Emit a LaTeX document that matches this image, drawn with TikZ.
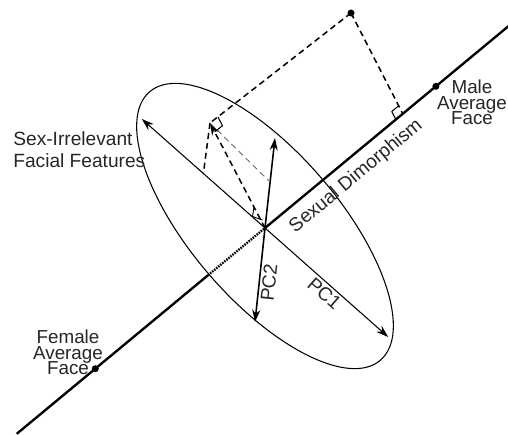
\documentclass[tikz,border=0pt]{standalone}
\usepackage{fontspec}
\setmainfont{Liberation Sans}
\usetikzlibrary{arrows.meta,calc}
\newcommand\facefont{\fontsize{10.7}{8.8}\selectfont\setlength{\lineskiplimit}{-10pt}}

\begin{document}
\begin{tikzpicture}[font=\fontsize{10.9}{12.5}\selectfont, line join=round, >={Stealth[length=7pt,width=4.6pt]},
    axis/.style={line width=1.35pt},
    pcaxis/.style={line width=0.9pt,->},
    proj/.style={line width=0.85pt,dash pattern=on 3.4pt off 2.3pt},
    lbl/.style={text=black!85},
    facelbl/.style={lbl,align=center,inner sep=0pt,anchor=north,font=\facefont}]
    \useasboundingbox (0,0) rectangle (10.16,8.68);
    \def\ang{39.66}
    \coordinate (C) at (5.30,4.12);
    \coordinate (Ce) at (5.30,4.16);
    \coordinate (LL) at ($(C)+(180+\ang:6.45)$);
    \coordinate (UR) at ($(C)+(\ang:6.35)$);
    \coordinate (Sx) at ($(C)+(180+\ang:1.48)$);
    \coordinate (Ma) at ($(C)+(\ang:4.44)$);
    \coordinate (Fe) at ($(C)+(180+\ang:4.41)$);
    \coordinate (Ft) at ($(C)+(\ang:3.58)$);
    \coordinate (P) at (7.02,8.42);
    \coordinate (Q) at (4.20,6.22);
    \coordinate (A1) at ($(C)+(138.5:3.29)$);
    \coordinate (A2) at ($(C)+(-41.5:3.29)$);
    \coordinate (B) at (5.10,2.24);
    \coordinate (U) at (5.50,5.92);
    \draw[line width=0.6pt, shift={(Ce)}, rotate=-49.3] (0,0) ellipse[x radius=3.54, y radius=1.48];
    \draw[axis] (LL) -- (Sx);
    \draw[axis, line width=1.3pt, dash pattern=on 0.9pt off 0.6pt] (Sx) -- (C);
    \draw[axis] (C) -- (UR);
    \draw[line width=0.6pt, <->] (A1) -- (A2);
    \draw[pcaxis] (C) -- (B);
    \draw[pcaxis] (C) -- (U);
    \draw[proj, ->] (C) -- (Q);
    \draw[proj] (Q) -- ($(C)!0.5!(A1)$);
    \draw[proj, line width=0.5pt, black!60] (Q) -- ($(C)!0.51!(U)$);
    \draw[proj] (P) -- (Q);
    \draw[proj] (P) -- (Ft);
    \coordinate (q1) at ($(Q)!0.2cm!(P)$);
    \coordinate (q2) at ($(Q)!0.2cm!(C)$);
    \draw[line width=0.6pt] (q1) -- ($(q1)+(q2)-(Q)$) -- (q2);
    \coordinate (f1) at ($(Ft)!0.18cm!(P)$);
    \coordinate (f2) at ($(Ft)!0.18cm!(LL)$);
    \draw[line width=0.6pt] (f1) -- ($(f1)+(f2)-(Ft)$) -- (f2);
    \draw[line width=0.5pt] ($(C)!0.2!(Q)$) -- ++(-0.03,-0.19) -- ($(C)+(-0.05,0.16)$);
    \fill (P) circle (0.07);
    \fill (Ma) circle (0.07);
    \fill (Fe) circle (0.07);
    \node[lbl, anchor=north west, align=left, inner sep=0pt] (sexirr) at (0.26,6.06) {Sex-Irrelevant\\Facial Features};
    \node[facelbl] (male) at (9.44,7.08) {Male\\Average\\Face};
    \node[facelbl] (female) at (1.36,2.08) {Female\\Average\\Face};
    \path (C) -- (UR) node[lbl, pos=0.325, sloped, below, inner sep=5.2pt] (sexdim) {Sexual Dimorphism};
    \path (C) -- (A2) node[lbl, pos=0.535, sloped, below, inner sep=1.5pt] (pc1) {PC1};
    \path (B) -- (C) node[lbl, pos=0.43, sloped, below, inner sep=1.5pt] (pc2) {PC2};
\end{tikzpicture}
\end{document}
